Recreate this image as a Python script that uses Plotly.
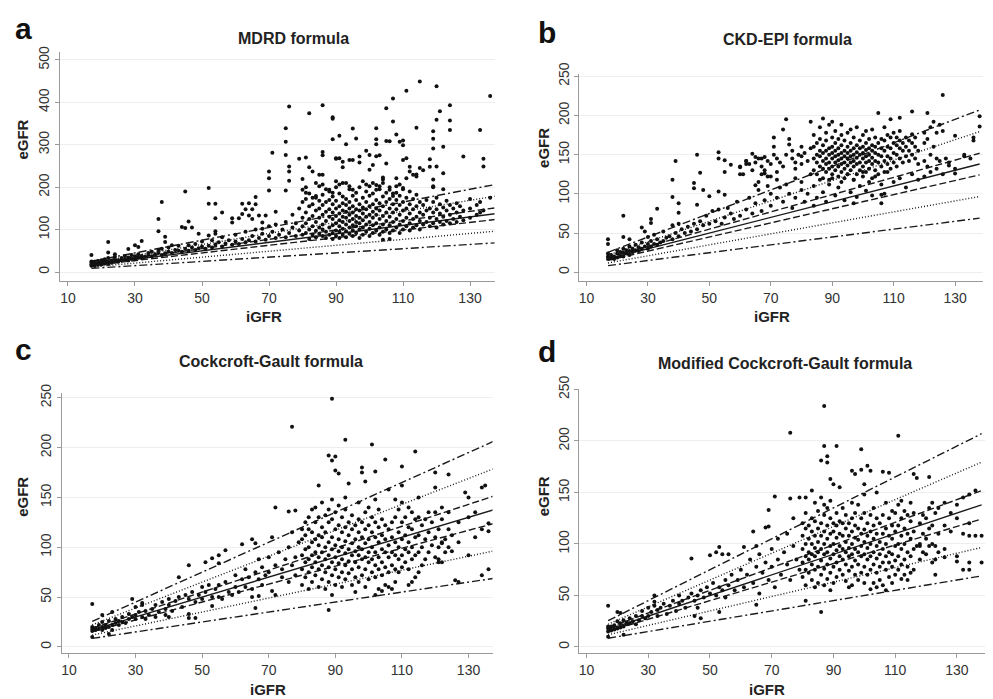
import plotly.graph_objects as go

W, H = 993, 699

# ---------------- data (iGFR, eGFR) ----------------
x_ticks = [10, 30, 50, 70, 90, 110, 130]
line_slopes = [0.5, 0.7, 0.9, 1.0, 1.1, 1.3, 1.5]
line_dashes = ["8px,3px,2px,3px", "1px,2px", "7px,3px", "solid", "7px,3px", "1px,2px", "8px,3px,2px,3px"]
line_x = [17, 138]

mdrd_low = [(17,15),(17,18),(17,22),(17,25),(17,40),(18,14),(18,20),(18,24),(19,17),(19,21),(19,26),(20,18),(20,23),(20,28),
 (21,20),(21,25),(21,30),(22,19),(22,24),(22,33),(22,46),(22,71),(23,22),(23,27),(24,25),(24,30),(24,36),(24,42),(25,24),(25,28),
 (26,27),(26,33),(27,30),(27,38),(28,27),(28,34),(28,54),(29,32),(29,40),(30,30),(30,37),(30,63),(31,34),(31,42),(31,59),(32,33),
 (32,38),(32,73),(33,36),(34,40),(34,45),(35,37),(35,48),(36,42),(37,45),(37,52),(37,96),(37,125),(38,40),(38,55),(38,165),(39,44),
 (39,71),(39,83),(40,48),(40,58),(41,45),(41,63),(42,52),(43,50),(43,62),(44,48),(44,106),(45,55),(45,104),(45,190),(46,50),(46,63),
 (46,119),(47,58),(47,105),(48,52),(48,66),(49,56),(49,90),(50,60),(50,72),(51,55),(52,62),(52,86),(52,161),(52,198),(53,58),(53,75),
 (54,65),(54,90),(54,96),(54,127),(54,161),(55,70),(56,60),(56,82),(56,140),(57,67),(58,75),(59,64),(59,117),(59,127),(60,72),(60,88),
 (61,66),(61,127),(62,78),(62,137),(62,161),(63,70),(63,95),(63,148),(64,75),(64,133),(64,162),(65,85),(65,125),(65,148),(66,72),
 (66,100),(66,160),(66,177),(67,80),(67,133),(68,90),(68,102),(68,117),(69,76),(69,133),(70,85),(70,108),(70,192),(70,221),(70,237),
 (71,95),(71,281),(72,80),(72,112),(72,142),(73,88),(74,100),(75,82),(75,118),(75,192),(75,276),(75,307),(75,339),(76,92),(76,215),
 (76,237),(76,249),(76,390),(77,105),(77,135),(78,85),(78,115),(79,98),(79,150),(79,267),(80,88),(80,108),(80,128),(80,165),(80,194),
 (80,219),(81,270)]

mdrd_high = [(81,92),(81,115),(81,140),(81,172),(81,187),(81,200),(82,78),(82,100),(82,125),(82,155),(82,185),(82,247),(82,374),
 (83,88),(83,108),(83,132),(83,160),(83,175),(83,237),(84,82),(84,97),(84,118),(84,145),(84,175),(84,210),(84,179),
 (85,90),(85,105),(85,128),(85,150),(85,168),(85,202),(85,229),(86,85),(86,100),(86,112),(86,135),(86,158),(86,182),(86,206),(86,229),
 (86,275),(86,283),(86,393),(87,80),(87,95),(87,120),(87,142),(87,165),(87,195),(88,88),(88,105),(88,130),(88,148),(88,170),(88,190),
 (88,194),(89,78),(89,92),(89,110),(89,125),(89,140),(89,160),(89,178),(89,187),(89,313),(89,361),(89,365),(90,85),(90,98),(90,115),
 (90,132),(90,150),(90,168),(90,200),(90,214),(90,267),(90,268),(91,80),(91,95),(91,108),(91,122),(91,138),(91,155),(91,185),(91,206),
 (91,268),(91,321),(92,88),(92,102),(92,118),(92,130),(92,145),(92,162),(92,178),(92,210),(92,247),(92,260),(93,82),(93,96),(93,112),
 (93,128),(93,142),(93,158),(93,172),(93,210),(93,301),(94,90),(94,105),(94,120),(94,135),(94,150),(94,165),(94,195),(94,202),(94,264),
 (95,85),(95,98),(95,110),(95,125),(95,140),(95,155),(95,180),(95,194),(95,264),(95,338),(96,92),(96,108),(96,118),(96,132),(96,148),
 (96,170),(96,187),(96,315),(97,80),(97,100),(97,115),(97,128),(97,145),(97,160),(97,200),(97,258),(97,272),(98,88),(98,105),(98,122),
 (98,138),(98,152),(98,175),(98,214),(99,95),(99,112),(99,130),(99,148),(99,165),(99,190),(99,206),(99,286),(100,85),(100,102),
 (100,118),(100,135),(100,155),(100,180),(100,202),(100,241),(100,276),(101,92),(101,110),(101,128),(101,142),(101,160),(101,185),
 (101,210),(101,252),(102,98),(102,115),(102,135),(102,150),(102,170),(102,194),(102,205),(102,273),(102,301),(102,313),(102,339),
 (103,88),(103,105),(103,125),(103,145),(103,162),(103,195),(103,202),(103,275),(104,76),(104,95),(104,112),(104,132),(104,155),
 (104,178),(104,210),(104,218),(104,223),(105,100),(105,120),(105,140),(105,165),(105,187),(105,256),(105,309),(105,386),(106,78),
 (106,92),(106,110),(106,130),(106,150),(106,172),(106,194),(106,200),(106,308),(107,98),(107,118),(107,140),(107,160),(107,179),
 (107,185),(107,355),(107,409),(108,105),(108,125),(108,148),(108,170),(108,187),(108,202),(108,221),(108,324),(109,92),(109,112),
 (109,135),(109,158),(109,180),(109,206),(109,307),(110,100),(110,120),(110,145),(110,165),(110,195),(110,198),(110,264),(110,299),
 (110,310),(111,108),(111,128),(111,150),(111,175),(111,221),(111,268),(111,427),(112,98),(112,115),(112,138),(112,160),(112,190),
 (112,248),(112,237),(113,105),(113,125),(113,148),(113,172),(113,229),(114,110),(114,130),(114,155),(114,182),(114,225),(114,230),
 (114,340),(115,100),(115,120),(115,140),(115,165),(115,245),(115,449),(116,112),(116,135),(116,158),(116,240),(117,118),(117,145),
 (117,170),(118,108),(118,128),(118,150),(118,248),(118,266),(119,115),(119,140),(119,165),(119,200),(119,202),(119,218),(119,291),
 (119,314),(119,332),(120,105),(120,125),(120,148),(120,175),(120,249),(120,359),(120,438),(121,118),(121,138),(121,160),(121,379),
 (122,112),(122,130),(122,152),(122,195),(122,233),(122,295),(123,120),(123,145),(123,168),(124,115),(124,135),(124,158),(124,335),
 (124,357),(124,393),(125,125),(125,150),(126,118),(126,140),(126,162),(127,130),(127,155),(128,122),(128,145),(128,272),(130,128),
 (130,150),(130,172),(132,135),(132,158),(133,140),(133,165),(133,335),(134,145),(134,249),(134,267),(136,175),(136,415)]

ckd_low = [(17,17),(17,20),(17,24),(17,36),(17,42),(18,18),(18,22),(19,17),(19,20),(20,19),(20,24),(20,28),(21,21),(21,26),(22,20),
 (22,25),(22,30),(22,45),(22,72),(23,24),(23,28),(24,22),(24,27),(24,33),(24,42),(25,26),(25,30),(26,28),(26,35),(27,27),(27,32),
 (28,30),(28,38),(28,57),(29,33),(29,52),(30,30),(30,36),(30,45),(31,33),(31,40),(31,63),(31,68),(32,36),(32,48),(33,35),(33,42),
 (33,81),(34,38),(35,40),(35,52),(36,44),(37,46),(38,42),(38,60),(38,96),(38,118),(39,50),(39,142),(40,46),(40,62),(40,76),(40,88),
 (41,55),(42,50),(43,58),(44,52),(45,62),(45,107),(45,114),(46,55),(46,86),(46,150),(47,65),(47,127),(48,60),(48,105),(49,72),
 (50,62),(50,97),(51,78),(52,65),(53,80),(53,103),(53,145),(53,153),(54,62),(55,70),(55,99),(55,128),(55,143),(56,82),(57,75),
 (57,137),(58,68),(59,90),(60,72),(60,125),(60,134),(62,80),(62,142),(62,138),(63,95),(64,75),(64,151),(65,88),(65,111),(66,105),
 (66,115),(67,78),(67,145),(68,92),(68,126),(69,110),(69,122),(70,85),(70,100),(72,95),(72,118),(73,108),(74,90),(75,112),(76,100),
 (77,82),(78,120),(78,95),(80,105),(80,115),(81,90),(82,100),(83,125),(84,85),(84,110),(85,95),(86,118),(87,102),(88,90),(89,112),
 (90,120),(91,98),(92,108),(93,115),(94,92),(95,125),(96,102),(97,118),(97,88),(98,96),(99,110),(100,128),(101,104),(102,115),
 (103,98),(104,122),(106,88),(106,99),(106,112),(107,100),(108,128),(110,115),(112,120),(114,108),(116,125),(118,118),(120,122),
 (122,128),(124,132),(126,125),(128,140),(130,132),(133,148),(135,145),
 (60,135),(61,125),(62,142),(63,138),(64,130),(65,147),(65,140),(66,145),(67,135),(67,125),(68,147),(68,130),(69,142),(70,138),
 (70,122),(71,172),(71,160),(71,150),(72,145),(72,128),(73,140),(74,182),(74,135),(75,195),(75,150),(76,170),(76,163),(77,145),
 (77,155),(78,140),(78,132),(79,150),(80,148),(80,138),(80,160),(81,152),(82,142),(83,192),(83,158)]

ckd_high = [(84,130),(84,145),(84,160),(84,175),(85,125),(85,140),(85,150),(85,165),(86,135),(86,148),(86,155),(86,170),(86,185),
 (87,120),(87,132),(87,142),(87,152),(87,162),(87,196),(88,128),(88,138),(88,145),(88,155),(88,168),(88,178),(89,118),(89,132),
 (89,140),(89,150),(89,158),(89,188),(90,125),(90,135),(90,145),(90,152),(90,160),(90,172),(90,192),(91,130),(91,140),(91,148),
 (91,155),(91,165),(91,180),(92,122),(92,135),(92,143),(92,150),(92,158),(92,170),(93,128),(93,138),(93,145),(93,152),(93,162),
 (93,175),(93,188),(94,120),(94,132),(94,140),(94,148),(94,155),(94,168),(95,125),(95,136),(95,145),(95,152),(95,160),(95,178),
 (96,130),(96,140),(96,148),(96,155),(96,165),(96,182),(97,118),(97,135),(97,142),(97,150),(97,158),(97,172),(98,125),(98,138),
 (98,146),(98,153),(98,162),(98,185),(99,130),(99,140),(99,150),(99,158),(99,168),(100,122),(100,135),(100,145),(100,152),(100,160),
 (100,175),(101,128),(101,140),(101,148),(101,156),(101,165),(101,180),(102,132),(102,142),(102,150),(102,158),(102,170),(103,120),
 (103,138),(103,146),(103,155),(103,162),(103,182),(104,130),(104,142),(104,152),(104,160),(104,172),(105,125),(105,140),(105,150),
 (105,165),(105,203),(106,135),(106,148),(106,158),(106,170),(107,128),(107,142),(107,155),(107,168),(107,185),(108,138),(108,148),
 (108,160),(108,175),(109,132),(109,145),(109,158),(109,172),(109,195),(110,140),(110,152),(110,165),(110,178),(111,135),(111,150),
 (111,162),(111,172),(112,145),(112,158),(112,168),(112,180),(112,197),(113,140),(113,155),(113,165),(114,148),(114,160),(114,172),
 (115,142),(115,155),(115,168),(116,150),(116,165),(116,176),(116,205),(117,145),(117,160),(117,172),(118,138),(118,155),(120,142),
 (120,165),(120,178),(121,135),(121,170),(121,203),(122,150),(122,185),(123,160),(123,192),(124,145),(124,178),(125,142),(125,188),
 (126,226),(126,180),(127,145),(128,136),(130,126),(130,174),(133,150),(136,172),(136,168),(138,199),(138,186)]

cg_low = [(17,10),(17,16),(17,18),(17,20),(17,43),(18,17),(18,19),(19,18),(19,22),(20,17),(20,20),(20,25),(20,32),(21,19),(21,22),
 (22,13),(22,20),(22,26),(23,35),(23,22),(23,17),(24,24),(24,28),(25,22),(25,26),(26,25),(26,30),(27,24),(28,28),(28,33),(29,30),
 (29,48),(30,28),(30,32),(30,40),(31,35),(32,30),(32,42),(32,44),(33,36),(33,28),(34,32),(35,38),(36,30),(36,42),(37,35),(38,45),
 (39,38),(39,32),(40,42),(40,48),(40,30),(41,36),(42,46),(43,50),(43,70),(44,40),(45,52),(46,48),(46,33),(46,82),(46,29),(47,55),
 (48,45),(48,29),(49,52),(50,48),(50,60),(51,55),(51,85),(52,62),(53,50),(53,89),(53,41),(54,58),(55,50),(55,62),(55,92),(55,84),
 (56,48),(57,65),(57,97),(58,55),(59,52),(60,60),(60,72),(61,55),(62,68),(62,103),(63,60),(63,78),(64,70),(65,58),(65,50),(65,108),
 (66,75),(66,104),(66,39),(67,68),(67,88),(67,51),(68,62),(68,80),(69,72),(70,90),(70,75),(71,110),(71,56),(72,82),(72,52),(72,140),
 (73,95),(74,78),(74,70),(75,88),(76,100),(76,65),(76,136),(77,115),(77,82),(77,221),(78,90),(78,72),(78,137),(79,105)]

cg_high = [(80,62),(80,78),(80,92),(80,108),(80,118),(81,70),(81,85),(81,98),(81,112),(81,125),(82,58),(82,75),(82,88),(82,100),
 (82,118),(82,130),(83,65),(83,80),(83,92),(83,105),(83,115),(83,138),(84,72),(84,85),(84,95),(84,108),(84,125),(84,140),(85,60),
 (85,78),(85,90),(85,102),(85,112),(85,130),(85,162),(86,68),(86,82),(86,95),(86,110),(86,120),(86,145),(87,58),(87,75),(87,88),
 (87,100),(87,115),(87,132),(88,65),(88,80),(88,92),(88,105),(88,125),(88,138),(88,192),(88,37),(89,52),(89,72),(89,85),(89,98),
 (89,110),(89,128),(89,148),(89,187),(89,249),(90,62),(90,78),(90,90),(90,102),(90,118),(90,135),(90,191),(90,177),(91,70),(91,84),
 (91,96),(91,108),(91,122),(91,142),(91,174),(92,60),(92,75),(92,88),(92,100),(92,115),(92,130),(93,68),(93,82),(93,94),(93,106),
 (93,120),(93,138),(93,150),(93,208),(94,74),(94,86),(94,98),(94,112),(94,125),(94,164),(95,62),(95,78),(95,92),(95,104),(95,118),
 (95,132),(96,55),(96,70),(96,85),(96,96),(96,108),(96,122),(97,65),(97,80),(97,92),(97,100),(97,115),(97,128),(97,145),(98,72),
 (98,88),(98,98),(98,110),(98,125),(98,180),(98,175),(99,60),(99,78),(99,90),(99,104),(99,118),(99,135),(99,166),(100,68),(100,85),
 (100,95),(100,108),(100,122),(100,140),(101,75),(101,88),(101,100),(101,115),(101,130),(101,203),(102,52),(102,70),(102,82),(102,95),
 (102,110),(102,125),(102,148),(102,176),(103,58),(103,78),(103,90),(103,105),(103,120),(103,138),(104,56),(104,72),(104,85),(104,98),
 (104,112),(104,128),(105,62),(105,80),(105,95),(105,108),(105,122),(105,188),(106,60),(106,75),(106,90),(106,102),(106,118),(106,158),
 (107,58),(107,82),(107,95),(107,110),(107,125),(108,65),(108,78),(108,92),(108,105),(108,130),(108,148),(109,75),(109,88),(109,100),
 (109,115),(109,138),(110,80),(110,92),(110,108),(110,125),(110,145),(110,162),(110,181),(111,85),(111,98),(111,112),(111,130),
 (112,62),(112,78),(112,95),(112,105),(112,120),(112,140),(113,65),(113,88),(113,100),(113,118),(113,135),(114,70),(114,92),(114,110),
 (114,128),(114,196),(115,75),(115,95),(115,112),(115,130),(115,150),(116,82),(116,100),(116,122),(117,88),(117,108),(117,128),
 (118,95),(118,115),(118,135),(119,102),(119,125),(120,90),(120,110),(120,135),(120,160),(120,175),(121,88),(121,100),(121,118),
 (121,85),(122,85),(122,105),(122,128),(122,140),(122,104),(123,95),(123,108),(124,100),(124,118),(124,135),(124,173),(125,96),
 (125,112),(126,67),(127,65),(127,105),(127,125),(129,155),(130,92),(130,130),(130,150),(132,110),(132,135),(134,72),(134,118),
 (134,160),(135,162),(136,78),(136,124),(136,116)]

mcg_low = [(17,10),(17,15),(17,18),(17,20),(17,40),(18,16),(18,20),(19,17),(19,21),(20,18),(20,25),(20,34),(21,19),(21,23),(21,33),
 (22,12),(22,20),(22,26),(23,22),(23,24),(24,23),(24,28),(25,25),(26,22),(26,30),(27,26),(28,30),(28,35),(29,28),(30,30),(30,38),
 (31,34),(32,40),(32,50),(32,44),(33,36),(33,30),(34,38),(35,42),(36,32),(37,40),(38,45),(39,35),(40,42),(40,50),(41,45),(42,38),
 (43,48),(44,52),(44,86),(45,45),(45,30),(46,50),(46,38),(47,55),(47,28),(48,48),(49,58),(50,52),(50,89),(51,62),(52,50),(52,92),
 (53,58),(53,97),(53,34),(54,55),(54,90),(55,65),(55,48),(56,60),(56,90),(57,70),(58,55),(59,65),(60,75),(61,58),(61,97),(62,70),
 (63,85),(64,62),(64,112),(65,78),(65,98),(65,41),(66,52),(66,90),(67,72),(68,82),(68,116),(69,65),(69,117),(69,133),(70,95),(70,78),
 (71,58),(71,146),(72,85),(72,105),(73,70),(74,92),(75,80),(75,110),(76,65),(76,208),(76,144),(77,98),(77,125),(78,85),(79,75),(79,145)]

mcg_high = [(80,68),(80,82),(80,95),(80,108),(80,120),(81,60),(81,75),(81,88),(81,100),(81,115),(81,130),(81,145),(81,45),(82,72),
 (82,85),(82,92),(82,105),(82,118),(83,65),(83,80),(83,90),(83,100),(83,112),(83,125),(83,152),(84,58),(84,75),(84,88),(84,96),
 (84,108),(84,122),(84,140),(85,62),(85,78),(85,92),(85,102),(85,115),(85,132),(86,70),(86,84),(86,95),(86,108),(86,120),(86,145),
 (86,181),(86,34),(87,60),(87,76),(87,90),(87,100),(87,112),(87,128),(87,138),(87,195),(87,234),(88,66),(88,80),(88,92),(88,105),
 (88,118),(88,135),(88,185),(88,179),(89,55),(89,72),(89,86),(89,98),(89,110),(89,125),(89,142),(89,163),(90,62),(90,78),(90,90),
 (90,100),(90,112),(90,120),(90,158),(91,68),(91,82),(91,94),(91,106),(91,118),(91,130),(91,195),(92,75),(92,88),(92,98),(92,110),
 (92,122),(92,155),(93,70),(93,85),(93,95),(93,108),(93,120),(93,135),(94,64),(94,80),(94,92),(94,102),(94,115),(94,128),(95,58),
 (95,74),(95,88),(95,96),(95,108),(95,120),(96,60),(96,78),(96,90),(96,100),(96,112),(96,125),(96,140),(96,171),(97,70),(97,84),
 (97,95),(97,106),(97,118),(97,130),(97,168),(98,65),(98,80),(98,92),(98,104),(98,115),(98,138),(99,72),(99,88),(99,98),(99,110),
 (99,125),(99,192),(99,172),(100,62),(100,78),(100,90),(100,102),(100,114),(100,130),(100,148),(100,158),(101,70),(101,85),(101,96),
 (101,108),(101,120),(101,176),(102,56),(102,75),(102,88),(102,100),(102,112),(102,128),(102,171),(103,62),(103,80),(103,92),
 (103,105),(103,118),(103,135),(104,58),(104,72),(104,86),(104,98),(104,110),(104,125),(104,150),(105,65),(105,78),(105,90),(105,102),
 (105,120),(106,60),(106,82),(106,95),(106,110),(106,128),(106,170),(107,55),(107,75),(107,88),(107,100),(107,115),(107,140),(108,68),
 (108,82),(108,92),(108,108),(108,125),(108,169),(109,62),(109,78),(109,90),(109,105),(109,118),(109,132),(110,70),(110,84),(110,98),
 (110,112),(110,130),(111,75),(111,88),(111,100),(111,118),(111,138),(111,205),(112,66),(112,80),(112,95),(112,108),(112,125),
 (112,142),(113,70),(113,85),(113,100),(113,115),(113,132),(114,65),(114,78),(114,92),(114,110),(114,128),(115,72),(115,88),(115,105),
 (115,122),(115,140),(116,75),(116,95),(116,112),(116,130),(116,168),(117,164),(117,98),(118,85),(118,100),(118,120),(118,98),
 (119,92),(119,110),(119,128),(120,90),(120,105),(120,125),(121,98),(121,115),(121,135),(121,165),(122,82),(122,100),(122,118),
 (122,140),(123,70),(123,85),(123,98),(123,130),(124,92),(124,110),(124,135),(126,87),(126,95),(126,118),(126,140),(128,112),
 (128,130),(130,83),(130,88),(130,125),(130,138),(132,110),(132,75),(132,145),(134,75),(134,120),(134,148),(134,108),(134,82),
 (136,108),(136,152),(138,108),(138,82)]

panels = [
    dict(name="MDRD formula", letter="a", points=mdrd_low + mdrd_high,
         y_ticks=[0, 100, 200, 300, 400, 500]),
    dict(name="CKD-EPI formula", letter="b", points=ckd_low + ckd_high,
         y_ticks=[0, 50, 100, 150, 200, 250]),
    dict(name="Cockcroft-Gault formula", letter="c", points=cg_low + cg_high,
         y_ticks=[0, 50, 100, 150, 200, 250]),
    dict(name="Modified Cockcroft-Gault formula", letter="d", points=mcg_low + mcg_high,
         y_ticks=[0, 50, 100, 150, 200, 250]),
]

# ---------------- layout geometry (pixels) ----------------
geom = [
    dict(px=(59, 494), py=(40, 273), xr=(7.6, 137.3), yr=(-21, 518),
         title=(293, 26), letter=(23, 16), ylab=(22, 129), xlab=(263, 309)),
    dict(px=(579, 983), py=(62, 273), xr=(7.7, 139.1), yr=(-11, 253),
         title=(787, 27), letter=(547, 20), ylab=(543, 137), xlab=(772, 309)),
    dict(px=(61, 492), py=(387, 652), xr=(7.9, 137.2), yr=(-6, 255),
         title=(270, 355), letter=(23, 343), ylab=(22, 493), xlab=(267, 689)),
    dict(px=(579, 985), py=(383, 652), xr=(7.7, 139.1), yr=(-5.7, 250.5),
         title=(785, 357), letter=(547, 345), ylab=(543, 492), xlab=(767, 689)),
]

FONT = "Arial, Liberation Sans, Helvetica, sans-serif"
fig = go.Figure()
annotations = []

def fx(p):
    return p / W

def fy(p):
    return 1 - p / H

for i, (pan, g) in enumerate(zip(panels, geom)):
    n = "" if i == 0 else str(i + 1)
    xa, ya = "x" + n, "y" + n
    for k, d in zip(line_slopes, line_dashes):
        fig.add_trace(go.Scatter(
            x=line_x, y=[k * v for v in line_x], mode="lines", xaxis=xa, yaxis=ya,
            line=dict(color="#1a1a1a", width=1.4, dash=d), hoverinfo="skip", showlegend=False))
    xs = [p[0] for p in pan["points"]]
    ys = [p[1] for p in pan["points"]]
    fig.add_trace(go.Scatter(
        x=xs, y=ys, mode="markers", xaxis=xa, yaxis=ya, showlegend=False,
        marker=dict(color="#111111", size=4, line=dict(width=0))))
    axis_common = dict(showline=True, linecolor="#9a9a9a", linewidth=1.2, ticks="outside",
                       ticklen=4, tickcolor="#9a9a9a", zeroline=False,
                       tickfont=dict(family=FONT, size=14, color="#333333"))
    fig.layout["xaxis" + n] = dict(
        domain=[fx(g["px"][0]), fx(g["px"][1])], range=list(g["xr"]), anchor=ya,
        tickvals=x_ticks, showgrid=False, **axis_common)
    fig.layout["yaxis" + n] = dict(
        domain=[fy(g["py"][1]), fy(g["py"][0])], range=list(g["yr"]), anchor=xa,
        tickvals=pan["y_ticks"], tickangle=-90, showgrid=True, gridcolor="#eeeeee",
        gridwidth=1, **axis_common)
    annotations += [
        dict(text="<b>" + pan["name"] + "</b>", x=fx(g["title"][0]), y=fy(g["title"][1]),
             xref="paper", yref="paper", showarrow=False, xanchor="center", yanchor="middle",
             font=dict(family=FONT, size=16, color="#222222")),
        dict(text="<b>" + pan["letter"] + "</b>", x=fx(g["letter"][0]), y=fy(g["letter"][1]),
             xref="paper", yref="paper", showarrow=False, xanchor="center", yanchor="middle",
             font=dict(family=FONT, size=30, color="#111111")),
        dict(text="<b>eGFR</b>", x=fx(g["ylab"][0]), y=fy(g["ylab"][1]), textangle=-90,
             xref="paper", yref="paper", showarrow=False, xanchor="center", yanchor="middle",
             font=dict(family=FONT, size=15, color="#222222")),
        dict(text="<b>iGFR</b>", x=fx(g["xlab"][0]), y=fy(g["xlab"][1]),
             xref="paper", yref="paper", showarrow=False, xanchor="center", yanchor="middle",
             font=dict(family=FONT, size=15, color="#222222")),
    ]

fig.update_layout(width=W, height=H, margin=dict(l=0, r=0, t=0, b=0),
                  paper_bgcolor="white", plot_bgcolor="white",
                  annotations=annotations, showlegend=False)
fig.write_html(
    "out.html",
    config={"displayModeBar": False},
    post_script=("document.body.style.margin='0px';document.body.style.overflow='hidden';"
                 "var gd=document.getElementById('{plot_id}');gd.style.position='fixed';"
                 "gd.style.top='0px';gd.style.left='0px';"))
